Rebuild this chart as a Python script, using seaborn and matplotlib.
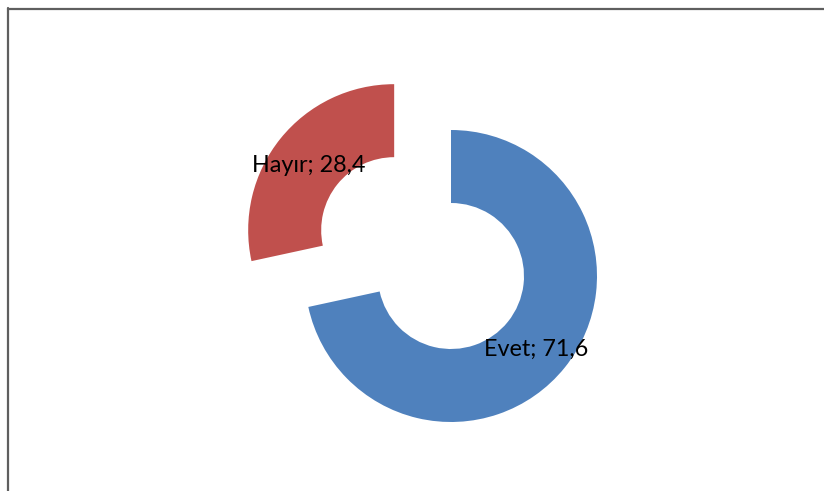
import matplotlib
matplotlib.use("Agg")
import matplotlib.pyplot as plt
import seaborn as sns
from matplotlib.lines import Line2D

# Data
categories = ["Evet", "Hayır"]
values = [71.6, 28.4]
colors = ["#4F81BD", "#C0504D"]
explode = [0.0, 0.5]

sns.set_style("white")
plt.rcParams['font.family'] = ['Lato', 'DejaVu Sans']

fig = plt.figure(figsize=(8.24, 4.91), dpi=100)
ax = fig.add_axes([0, 0, 1, 1])

labels = [f"{c}; {str(v).replace('.', ',')}" for c, v in zip(categories, values)]
wedges, texts = ax.pie(values, colors=colors, startangle=90, counterclock=False,
                       explode=explode, labels=labels, labeldistance=0.75,
                       wedgeprops=dict(width=0.5, linewidth=0),
                       textprops=dict(fontsize=16.8, color="black"))
for t in texts:
    t.set_ha("center")
    t.set_va("center")
    x, y = t.get_position()
    t.set_position((x, y - 0.03))

# scale so that radius 1 = 146 px, centre at (451, 276) px from top-left
r = 146.0
ax.set_xlim(-451 / r, (824 - 451) / r)
ax.set_ylim(-(491 - 276) / r, 276 / r)
ax.set_aspect("auto")
ax.axis("off")

# outer frame (only left and top edges are visible in the picture)
fig.add_artist(Line2D([8 / 824, 8 / 824], [0, 1 - 8 / 491], color="#5f5f5f",
                      lw=1.6, transform=fig.transFigure))
fig.add_artist(Line2D([8 / 824, 1], [1 - 9 / 491, 1 - 9 / 491], color="#5f5f5f",
                      lw=1.6, transform=fig.transFigure))

fig.savefig("out.png", dpi=100, facecolor="white")
